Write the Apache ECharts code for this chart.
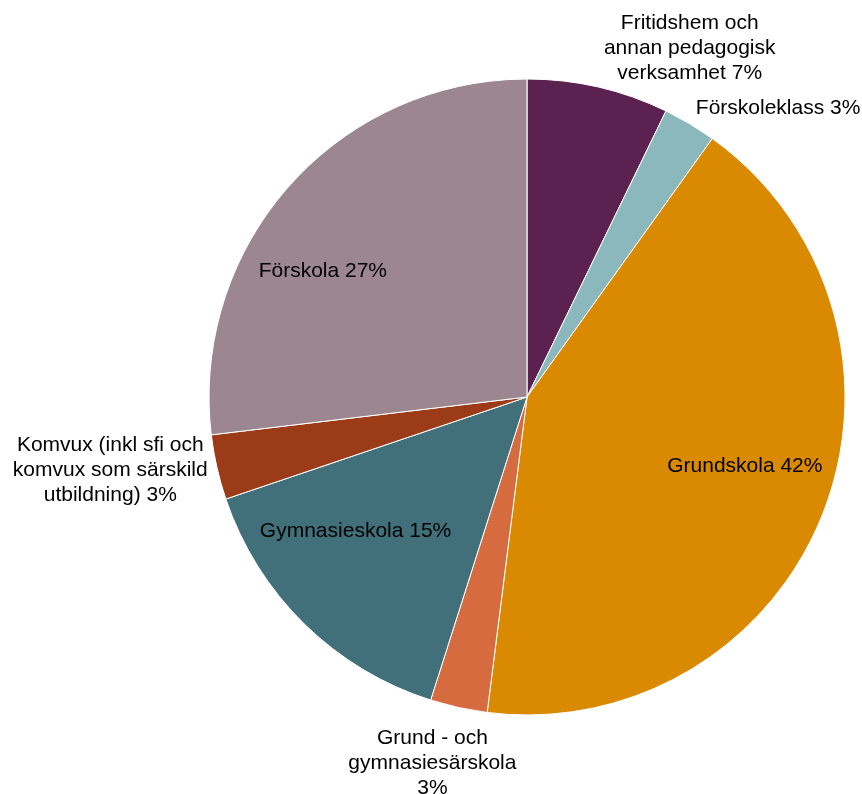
<!DOCTYPE html>
<html>
<head>
<meta charset="utf-8">
<script src="https://cdn.jsdelivr.net/npm/echarts@6/dist/echarts.min.js"></script>
<style>html,body{margin:0;padding:0;background:#fff}#c{width:862px;height:794px}</style>
</head>
<body>
<div id="c"></div>
<script>
const categories = [
  'Fritidshem och\nannan pedagogisk\nverksamhet',
  'Förskoleklass',
  'Grundskola',
  'Grund - och\ngymnasiesärskola\n',
  'Gymnasieskola',
  'Komvux (inkl sfi och\nkomvux som särskild\nutbildning)',
  'Förskola'
];
const values = [7.2, 2.7, 42.1, 2.9, 14.9, 3.3, 26.9];
const colors = ['#5B2150', '#8AB8BC', '#D98A00', '#D56B3F', '#416F7A', '#9B3B17', '#9C8790'];
const insideIdx = [2, 4, 6];

// label nudges relative to ECharts' default label placement
const labelNudge = [
  { dx: 53, dy: -24, align: 'center' },
  { dx: -54, dy: -16 },
  { dx: 67, dy: 10 },
  { dx: 12, dy: 41, align: 'center' },
  { dx: -58, dy: 19 },
  { dx: -57, dy: 0, align: 'center' },
  { dx: -83, dy: -18 }
];

const chart = echarts.init(document.getElementById('c'));
chart.setOption({
  animation: false,
  series: [{
    type: 'pie',
    center: ['61.14%', '50%'],
    radius: 318,
    startAngle: 90,
    clockwise: true,
    percentPrecision: 0,
    itemStyle: { borderColor: '#fff', borderWidth: 1 },
    label: {
      fontFamily: 'Liberation Sans, Arial, sans-serif',
      fontSize: 21,
      lineHeight: 25,
      color: '#000',
      overflow: 'none',
      formatter: p => p.name + (p.name.endsWith('\n') ? '' : ' ') + p.percent + '%'
    },
    labelLine: { show: false },
    labelLayout: p => labelNudge[p.dataIndex],
    data: categories.map((c, i) => ({
      name: c,
      value: values[i],
      itemStyle: { color: colors[i] },
      label: { position: insideIdx.includes(i) ? 'inside' : 'outside' }
    }))
  }]
});
</script>
</body>
</html>
